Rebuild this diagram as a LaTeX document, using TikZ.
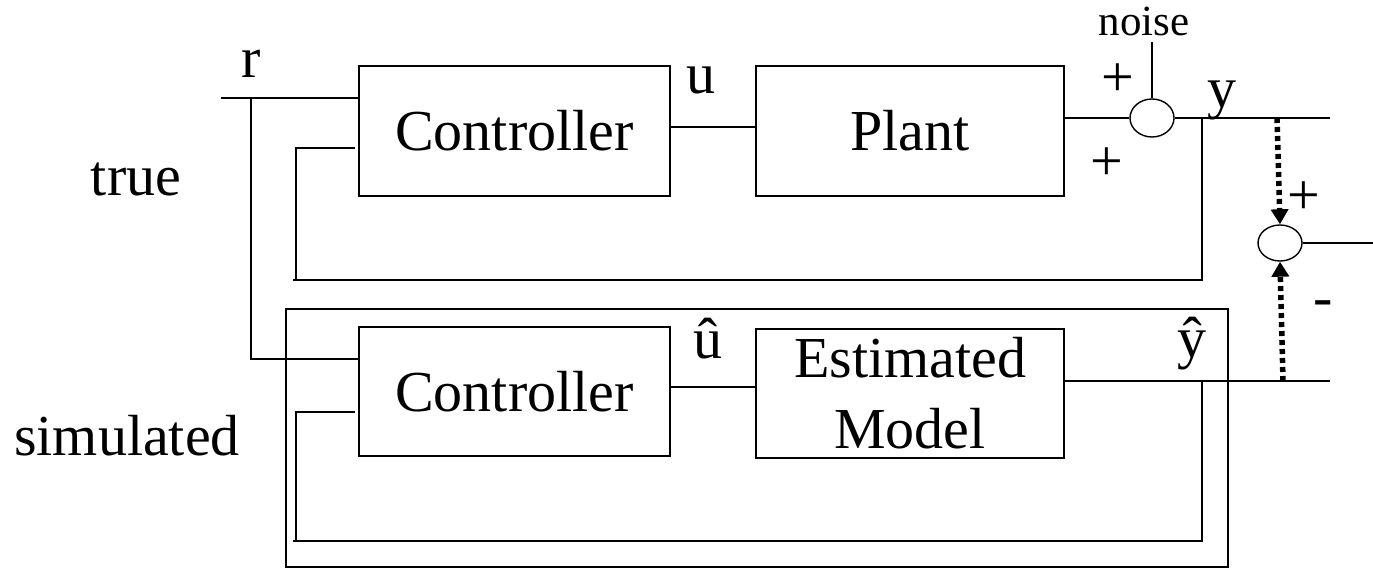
\documentclass[tikz,border=0pt]{standalone}
\usepackage{fontspec}
\setmainfont{Liberation Serif}
\usetikzlibrary{shapes.geometric,arrows.meta}
\begin{document}
\begin{tikzpicture}[x=1pt,y=-1pt,
  wire/.style={line width=1.4pt},
  blk/.style={wire, draw, minimum width=311pt, minimum height=130pt, inner sep=0pt, align=center, font=\fontsize{58}{71}\selectfont},
  sumj/.style={wire, draw, ellipse, minimum width=44pt, minimum height=38pt, inner sep=0pt},
  lbl/.style={inner sep=0pt, font=\fontsize{58}{70}\selectfont},
  slbl/.style={inner sep=0pt, font=\fontsize{43}{50}\selectfont},
  darrow/.style={line width=5.5pt, dash pattern=on 5pt off 4pt, -{Triangle[length=15pt,width=17pt]}}]
\useasboundingbox (0,0) rectangle (1373,570);

% simulated frame
\node[wire, draw, minimum width=942pt, minimum height=258pt, inner sep=0pt] (sim) at (757,438) {};

% blocks
\node[blk] (c1) at (514.5,131) {Controller};
\node[blk, minimum width=308pt] (p) at (910,131) {Plant};
\node[blk, minimum height=129pt] (c2) at (514.5,391.5) {Controller};
\node[blk, minimum width=308pt, minimum height=129pt] (m) at (910,393.5) {Estimated\\Model};

% summing junctions
\node[sumj] (s1) at (1152,118) {};
\node[sumj, minimum height=36pt] (s2) at (1280,243) {};

% coordinates
\coordinate (rin) at (221,98);
\coordinate (rj) at (251,98);
\coordinate (rj2) at (251,359);
\coordinate (noisetop) at (1152,42);
\coordinate (yout) at (1330,118);
\coordinate (fb1) at (1202,118);
\coordinate (fb1a) at (1202,280);
\coordinate (fb1b) at (293,280);
\coordinate (fb1c) at (296,148);
\coordinate (yhout) at (1330,381);
\coordinate (fb2) at (1202,381);
\coordinate (fb2a) at (1202,541);
\coordinate (fb2b) at (293,541);
\coordinate (fb2c) at (296,412);
\coordinate (eout) at (1373,243);
\coordinate (dtop) at (1277,118);
\coordinate (dbot) at (1283,381);

% true loop wires
\draw[wire] (rin) -- (c1.west |- rin);
\draw[wire] (rj) -- (rj2) -- (c2.west |- rj2);
\coordinate (u1) at ([yshift=4pt]c1.east);
\draw[wire] (u1) -- (p.west |- u1);
\draw[wire] (p.east |- s1) -- (s1.west);
\draw[wire] (s1.east) -- (yout);
\draw[wire] (noisetop) -- (s1.north);
\draw[wire] (fb1) -- (fb1a) -- (fb1b);
\draw[wire] (fb1c |- fb1a) -- (fb1c) -- ([xshift=-3pt]c1.west |- fb1c);

% simulated loop wires
\coordinate (u2) at ([yshift=4.5pt]c2.east);
\draw[wire] (u2) -- (m.west |- u2);
\coordinate (yh) at ([yshift=12.5pt]m.east);
\draw[wire] (yh) -- (yhout);
\draw[wire] (fb2) -- (fb2a) -- (fb2b);
\draw[wire] (fb2c |- fb2a) -- (fb2c) -- ([xshift=-3pt]c2.west |- fb2c);

% error
\draw[darrow] (dtop) -- (s2.north);
\draw[darrow] (dbot) -- (s2.south);
\draw[wire] (s2.east) -- (eout);

% labels
\node[lbl, anchor=base] (lr) at (251,77) {r};
\node[lbl, anchor=base] (lu) at (701,93) {u};
\node[lbl, anchor=base] (luh) at (708,358) {û};
\node[lbl, anchor=base] (ly) at (1222,107) {y};
\node[lbl, anchor=base] (lyh) at (1192,357) {ŷ};
\node[slbl, anchor=base] (lnoise) at (1144,35) {noise};
\node[lbl] (lp1) at (1118,80) {+};
\node[lbl] (lp2) at (1107,164) {+};
\node[lbl] (lp3) at (1304,198) {+};
\node[lbl] (lm) at (1323,309) {-};
\node[lbl, anchor=base] (ltrue) at (136,195) {true};
\node[lbl, anchor=base] (lsim) at (127,455) {simulated};
\end{tikzpicture}
\end{document}
